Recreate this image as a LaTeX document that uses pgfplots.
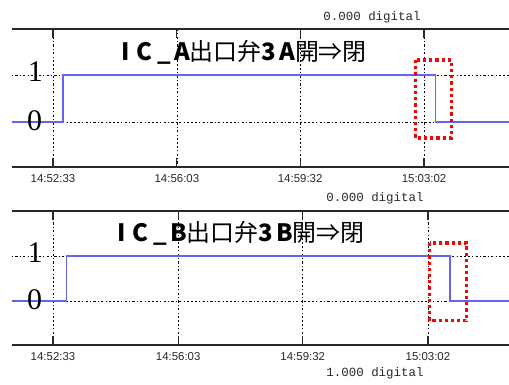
\documentclass[border=0pt]{standalone}
\usepackage{fontspec}
\usepackage{pgfplots}
\pgfplotsset{compat=1.18}
\newfontfamily\cjk{Noto Sans CJK JP}
\newfontfamily\lmono{Liberation Mono}
\newfontfamily\lsans{Liberation Sans}
\newfontfamily\lserif{Liberation Serif}
\definecolor{sig}{RGB}{100,100,240}
\definecolor{ax}{RGB}{40,40,40}
\definecolor{redbox}{RGB}{235,10,10}
\pgfplotsset{panel/.style={
  scale only axis, width=497bp,
  separate axis lines,
  x axis line style={ax, line width=1.4bp, -},
  y axis line style={draw=none},
  xtick={0,210,419,629},
  xticklabels={14:52:33,14:56:03,14:59:32,15:03:02},
  tick align=inside,
  major tick length=9bp,
  xtick style={ax, line width=1.2bp},
  ytick style={draw=none},
  ytick={0,1}, yticklabels={},
  xmajorgrids, ymajorgrids,
  grid style={black, line width=0.7bp, dash pattern=on 1.2bp off 2.2bp on 2.2bp off 2.2bp},
  xticklabel style={font=\lsans\fontsize{11.5}{12}\selectfont, text=ax, yshift=-3.5bp},
}}
\begin{document}
\begin{tikzpicture}[x=1bp,y=1bp]
\useasboundingbox (0,0) rectangle (509,384);
% top panel
\begin{axis}[panel, at={(12bp,217bp)}, anchor=south west, height=138bp,
  xmin=-69.5, xmax=773, ymin=-0.957, ymax=1.979]
\addplot[sig, line width=1.2bp] coordinates {(-69.5,0) (17,0) (17,1) (649,1) (649,0) (773,0)};
\node[font=\lserif\fontsize{30}{30}\selectfont] at (axis cs:-30,1.08) {1};
\node[font=\lserif\fontsize{30}{30}\selectfont] at (axis cs:-31,0.03) {0};
\draw[redbox, line width=3.2bp, dash pattern=on 3.2bp off 3bp] (axis cs:614,1.32) rectangle (axis cs:675,-0.34);
\end{axis}
% bottom panel
\begin{axis}[panel, at={(12bp,39bp)}, anchor=south west, height=134bp,
  xmin=-68.8, xmax=765, ymin=-0.978, ymax=2.0]
\addplot[sig, line width=1.2bp] coordinates {(-68.8,0) (22,0) (22,1) (666,1) (666,0) (765,0)};
\node[font=\lserif\fontsize{30}{30}\selectfont] at (axis cs:-30,1.08) {1};
\node[font=\lserif\fontsize{30}{30}\selectfont] at (axis cs:-31,0.03) {0};
\draw[redbox, line width=3.2bp, dash pattern=on 3.2bp off 3bp] (axis cs:632,1.29) rectangle (axis cs:694,-0.44);
\end{axis}
% titles and captions
\node[font=\cjk\fontsize{24}{24}\selectfont, inner sep=0] at (244,332)
  {\bfseries I\hspace{7bp}C\hspace{5bp}\_\hspace{3bp}A\mdseries 出口弁\bfseries 3\hspace{3bp}A\mdseries 開⇒閉};
\node[font=\cjk\fontsize{24}{24}\selectfont, inner sep=0] at (241,151)
  {\bfseries I\hspace{7bp}C\hspace{5bp}\_\hspace{3bp}B\mdseries 出口弁\bfseries 3\hspace{3bp}B\mdseries 開⇒閉};
\node[font=\lmono\fontsize{12.5}{13}\selectfont, text=ax, inner sep=0] at (372,367) {0.000 digital};
\node[font=\lmono\fontsize{12.5}{13}\selectfont, text=ax, inner sep=0] at (375,186) {0.000 digital};
\node[font=\lmono\fontsize{12.5}{13}\selectfont, text=ax, inner sep=0] at (375,11) {1.000 digital};
\end{tikzpicture}
\end{document}
